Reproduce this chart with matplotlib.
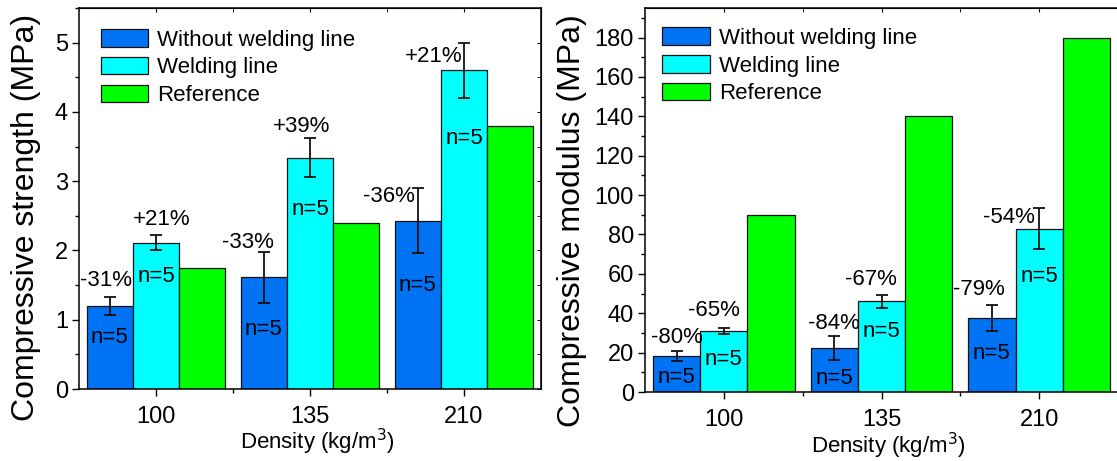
import matplotlib
matplotlib.use('Agg')
import matplotlib.pyplot as plt
import numpy as np
from matplotlib.ticker import MultipleLocator, FixedLocator

plt.rcParams['font.family'] = ['Liberation Sans', 'DejaVu Sans']

densities = ['100', '135', '210']
series_names = ['Without welding line', 'Welding line', 'Reference']
colors = ['#0073f5', '#00ffff', '#00ff00']

strength_without = [1.20, 1.61, 2.43]
strength_without_err = [0.125, 0.37, 0.47]
strength_welding = [2.11, 3.34, 4.60]
strength_welding_err = [0.11, 0.28, 0.40]
strength_reference = [1.75, 2.40, 3.80]

modulus_without = [18.1, 22.3, 37.7]
modulus_without_err = [2.6, 6.2, 6.6]
modulus_welding = [31.1, 46.0, 82.9]
modulus_welding_err = [1.6, 3.4, 10.5]
modulus_reference = [90, 140, 180]

strength_pct = ['-31%', '+21%', '-33%', '+39%', '-36%', '+21%']
modulus_pct = ['-80%', '-65%', '-84%', '-67%', '-79%', '-54%']

# label placement (x offset from group centre, y in data units)
strength_pct_dx = [-0.325, 0.04, -0.40, -0.055, -0.49, -0.20]
strength_pct_y = [1.56, 2.44, 2.12, 3.79, 2.78, 4.80]
strength_n_y = [0.74, 1.63, 0.86, 2.59, 1.49, 3.61]
modulus_pct_dx = [-0.30, -0.063, -0.30, -0.066, -0.385, -0.19]
modulus_pct_y = [27.9, 41.5, 34.7, 57.0, 52.0, 88.5]
modulus_n_y = [7.6, 16.4, 7.1, 30.5, 19.8, 58.9]

W, H = 1117, 461
fig = plt.figure(figsize=(W / 100, H / 100), dpi=100)
ax1 = fig.add_axes([79 / W, 72 / H, 462 / W, 381 / H])
ax2 = fig.add_axes([645 / W, 69 / H, 473 / W, 384 / H])

x = np.arange(len(densities))
bw = 0.3


def draw(ax, without, without_err, welding, welding_err, ref,
         pct, pct_dx, pct_y, n_y, ylim, major, minor, ylabel, ylabel_xy,
         legend_anchor, mirror_right=True):
    ax.bar(x - bw, without, bw, color=colors[0], edgecolor='#111111', linewidth=0.9,
           label=series_names[0], zorder=2)
    ax.bar(x, welding, bw, color=colors[1], edgecolor='#111111', linewidth=0.9,
           label=series_names[1], zorder=2)
    ax.bar(x + bw, ref, bw, color=colors[2], edgecolor='#111111', linewidth=0.9,
           label=series_names[2], zorder=2)
    ax.errorbar(x - bw, without, yerr=without_err, fmt='none', ecolor='#111111',
                elinewidth=1.3, capsize=4, capthick=1.3, zorder=3)
    ax.errorbar(x, welding, yerr=welding_err, fmt='none', ecolor='#111111',
                elinewidth=1.3, capsize=4, capthick=1.3, zorder=3)

    for i in range(len(densities)):
        for j in range(2):
            k = 2 * i + j
            ax.text(x[i] + pct_dx[k], pct_y[k], pct[k], ha='center', va='center',
                    fontsize=16, zorder=4)
            ax.text(x[i] + (j - 1) * bw, n_y[k], 'n=5', ha='center', va='center',
                    fontsize=16, zorder=4)

    ax.set_xlim(-0.5, 2.5)
    ax.set_ylim(*ylim)
    ax.set_xticks(x)
    ax.set_xticklabels(densities)
    ax.xaxis.set_minor_locator(FixedLocator([0.5, 1.5]))
    ax.yaxis.set_major_locator(MultipleLocator(major))
    ax.yaxis.set_minor_locator(MultipleLocator(minor))
    ax.tick_params(axis='both', which='major', direction='out', length=5, width=1,
                   labelsize=17, pad=3)
    ax.tick_params(axis='x', which='major', pad=7)
    ax.tick_params(axis='both', which='minor', direction='out', length=3, width=1)
    for sp in ax.spines.values():
        sp.set_linewidth(1.1)
    ax.set_ylabel(ylabel, fontsize=23)
    ax.yaxis.set_label_coords(*ylabel_xy)
    ax.set_xlabel('Density (kg/m$^3$)', fontsize=16)
    ax.xaxis.set_label_coords(0.515, -0.1)
    ax.legend(loc='upper left', bbox_to_anchor=legend_anchor, frameon=False,
              fontsize=16, handlelength=2.15, handleheight=0.85,
              handletextpad=0.4, labelspacing=0.28, borderpad=0, borderaxespad=0)

    # small inward ticks mirrored on top and right
    top = ax.secondary_xaxis('top')
    top.set_xticks(x)
    top.xaxis.set_minor_locator(FixedLocator([0.5, 1.5]))
    top.tick_params(which='both', direction='in', length=3, labeltop=False)
    if mirror_right:
        right = ax.secondary_yaxis('right')
        right.yaxis.set_major_locator(MultipleLocator(major))
        right.yaxis.set_minor_locator(MultipleLocator(minor))
        right.tick_params(which='both', direction='in', length=3, labelright=False)


draw(ax1, strength_without, strength_without_err, strength_welding,
     strength_welding_err, strength_reference, strength_pct, strength_pct_dx,
     strength_pct_y, strength_n_y, (0, 5.5), 1, 0.5,
     'Compressive strength (MPa)', (-0.083, 0.449), (0.047, 0.945))
draw(ax2, modulus_without, modulus_without_err, modulus_welding,
     modulus_welding_err, modulus_reference, modulus_pct, modulus_pct_dx,
     modulus_pct_y, modulus_n_y, (0, 195), 20, 10,
     'Compressive modulus (MPa)', (-0.122, 0.447), (0.036, 0.95),
     mirror_right=False)

fig.savefig('out.png', dpi=100)
